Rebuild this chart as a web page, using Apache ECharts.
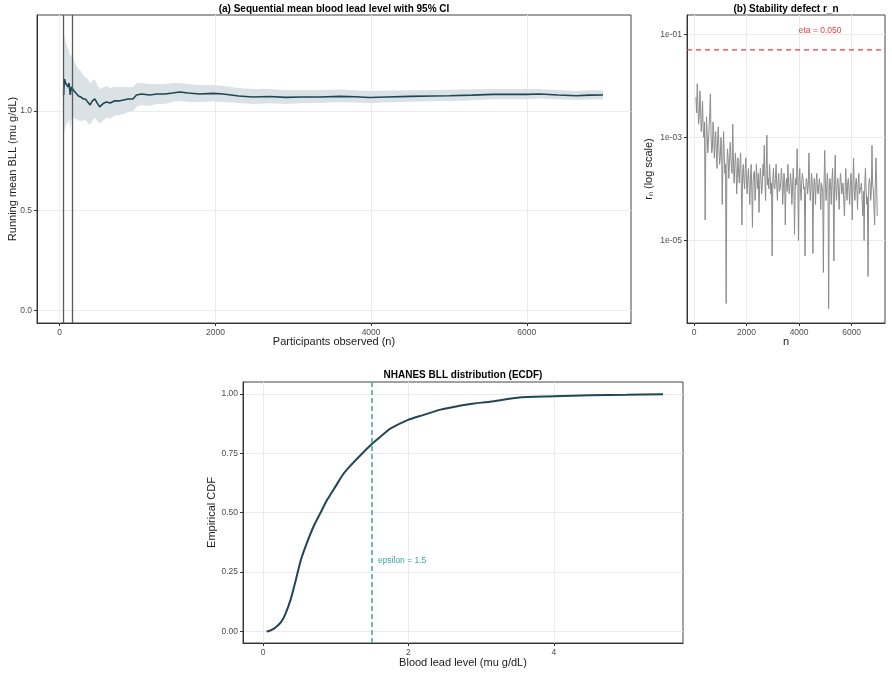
<!DOCTYPE html>
<html>
<head>
<meta charset="utf-8">
<script src="https://cdn.jsdelivr.net/npm/echarts@6/dist/echarts.min.js"></script>
<style>
  html, body { margin: 0; padding: 0; background: #fff; }
  #chart { width: 892px; height: 676px; }
</style>
</head>
<body>
<div id="chart"></div>
<script>
// ---- (a) running mean with 95% CI ----
var runN = [50, 60, 75, 90, 105, 120, 135, 150, 165, 185,
  210, 240, 270, 300, 330, 360, 390, 420, 450, 480,
  514, 540, 570, 600, 650, 700, 760, 820, 880, 940,
  986, 1050, 1156, 1250, 1350, 1450, 1541, 1650, 1800, 1969,
  2100, 2300, 2483, 2700, 2900, 3100, 3340, 3600, 3800, 3982,
  4200, 4500, 4795, 5000, 5300, 5566, 5800, 6000, 6166, 6400,
  6637, 6800, 6979];
var runMean = [1.08, 1.16, 1.14, 1.15, 1.12, 1.14, 1.08, 1.12, 1.13, 1.10,
  1.09, 1.075, 1.07, 1.06, 1.06, 1.045, 1.03, 1.05, 1.06, 1.04,
  1.02, 1.03, 1.04, 1.045, 1.04, 1.05, 1.05, 1.055, 1.06, 1.06,
  1.08, 1.085, 1.08, 1.085, 1.085, 1.09, 1.095, 1.09, 1.085, 1.088,
  1.085, 1.075, 1.07, 1.072, 1.068, 1.07, 1.07, 1.073, 1.071, 1.067,
  1.07, 1.073, 1.075, 1.076, 1.079, 1.083, 1.083, 1.083, 1.085, 1.08,
  1.076, 1.079, 1.08];
var ciUpper = [1.40, 1.38, 1.35, 1.33, 1.31, 1.30, 1.27, 1.28, 1.28, 1.25,
  1.23, 1.21, 1.20, 1.18, 1.17, 1.16, 1.14, 1.15, 1.16, 1.13,
  1.11, 1.115, 1.12, 1.125, 1.115, 1.12, 1.12, 1.12, 1.12, 1.12,
  1.14, 1.14, 1.135, 1.135, 1.135, 1.14, 1.14, 1.135, 1.13, 1.13,
  1.125, 1.115, 1.11, 1.11, 1.105, 1.105, 1.105, 1.107, 1.104, 1.10,
  1.102, 1.104, 1.105, 1.106, 1.108, 1.11, 1.11, 1.11, 1.11, 1.105,
  1.10, 1.103, 1.103];
var ciLower = [0.86, 0.90, 0.92, 0.94, 0.93, 0.96, 0.91, 0.95, 0.97, 0.96,
  0.96, 0.95, 0.95, 0.95, 0.955, 0.94, 0.93, 0.95, 0.965, 0.95,
  0.935, 0.945, 0.955, 0.965, 0.96, 0.975, 0.98, 0.985, 0.995, 1.0,
  1.02, 1.03, 1.025, 1.035, 1.035, 1.045, 1.05, 1.045, 1.045, 1.048,
  1.045, 1.04, 1.035, 1.038, 1.035, 1.038, 1.04, 1.043, 1.042, 1.038,
  1.042, 1.046, 1.048, 1.05, 1.053, 1.058, 1.058, 1.059, 1.062, 1.058,
  1.054, 1.057, 1.058];
var burnInN = [50, 163];

// ---- (b) stability defect r_n : [n, r_n] ----
var stabilityPoints = [
  [75, 6e-3], [125, 1.1e-2], [175, 1.8e-3], [225, 8e-3], [275, 1.3e-3], [325, 5e-3], [375, 1e-3], [425, 2.5e-5], [475, 2.5e-3], [525, 5e-4],
  [575, 1.6e-3], [625, 7e-3], [675, 5e-4], [725, 2e-3], [775, 4e-4], [825, 1.3e-3], [875, 2.5e-4], [925, 1.6e-3], [975, 3e-4], [1025, 1e-3],
  [1075, 5e-5], [1125, 1.3e-3], [1175, 2e-4], [1225, 6e-7], [1275, 6e-4], [1325, 1.6e-4], [1375, 8e-4], [1425, 2.5e-4], [1475, 1.8e-3], [1525, 1.3e-4],
  [1575, 5e-4], [1625, 8e-5], [1675, 4e-4], [1725, 1.3e-4], [1775, 5e-4], [1825, 2e-5], [1875, 3e-4], [1925, 1e-4], [1975, 4e-4], [2025, 8e-5],
  [2075, 2.5e-4], [2125, 5e-5], [2175, 3e-4], [2225, 1.8e-5], [2275, 2e-4], [2325, 6e-5], [2375, 3e-4], [2425, 1e-4], [2475, 3.5e-5], [2525, 2.5e-4],
  [2575, 8e-5], [2625, 3e-4], [2675, 7e-4], [2725, 6e-5], [2775, 1.1e-3], [2825, 1.6e-4], [2875, 3e-4], [2925, 8e-5], [2975, 5e-6], [3025, 2.5e-4],
  [3075, 1e-4], [3125, 3e-4], [3175, 6e-5], [3225, 2e-4], [3275, 1e-4], [3325, 2.5e-4], [3375, 5e-5], [3425, 2e-4], [3475, 2e-5], [3525, 1.6e-4],
  [3575, 3e-4], [3625, 8e-5], [3675, 2e-4], [3725, 5e-5], [3775, 2.5e-4], [3825, 1.3e-5], [3875, 1.6e-4], [3925, 6e-4], [3975, 1e-5], [4025, 2.5e-4],
  [4075, 6e-5], [4125, 2e-4], [4175, 1e-4], [4225, 5e-6], [4275, 1.6e-4], [4325, 8e-5], [4375, 5e-4], [4425, 6e-5], [4475, 2e-4], [4525, 5.6e-6],
  [4575, 1.6e-4], [4625, 5e-5], [4675, 2e-4], [4725, 8e-5], [4775, 1.6e-4], [4825, 4e-5], [4875, 1.3e-4], [4925, 2.4e-6], [4975, 5.6e-4], [5025, 6e-5],
  [5075, 2e-4], [5125, 4.8e-7], [5175, 1.6e-4], [5225, 5e-5], [5275, 2.5e-4], [5325, 4e-6], [5375, 4.5e-4], [5425, 6e-5], [5475, 1.6e-4], [5525, 4e-5],
  [5575, 2e-4], [5625, 8e-5], [5675, 1.3e-4], [5725, 3e-5], [5775, 2.5e-4], [5825, 6e-5], [5875, 1.6e-4], [5925, 5e-5], [5975, 2e-4], [6025, 2.5e-5],
  [6075, 4e-4], [6125, 6e-5], [6175, 1.6e-4], [6225, 4e-5], [6275, 2e-4], [6325, 8e-5], [6375, 1.3e-4], [6425, 3e-5], [6475, 1e-5], [6525, 2.5e-4],
  [6575, 5e-5], [6625, 2e-6], [6675, 1.6e-4], [6725, 6e-5], [6775, 7e-4], [6825, 1e-4], [6875, 2e-5], [6925, 4e-4], [6975, 3e-5]
];
// in-between samples of the same curve
var stabilityMid = [
  [100, 3e-3], [150, 4e-3], [200, 2.5e-3], [250, 4e-3], [300, 2e-3], [350, 1.5e-3], [400, 2e-3], [450, 6e-4], [500, 1.2e-3], [550, 8e-4],
  [600, 3e-3], [650, 1e-3], [700, 6e-4], [750, 1.3e-3], [800, 8e-4], [850, 5e-4], [900, 9e-4], [950, 6e-4], [1000, 4e-4], [1050, 7e-4],
  [1100, 3e-4], [1150, 5e-4], [1200, 3e-4], [1250, 2.5e-4], [1300, 4e-4], [1350, 3e-4], [1400, 5e-4], [1450, 2e-4], [1500, 4e-4], [1550, 2.5e-4],
  [1600, 3e-4], [1650, 1.6e-4], [1700, 2e-4], [1750, 3e-4], [1800, 1.2e-4], [1850, 2e-4], [1900, 1.5e-4], [1950, 2.5e-4], [2000, 1.3e-4], [2050, 1.8e-4],
  [2100, 1.2e-4], [2150, 1.6e-4], [2200, 1e-4], [2250, 1.4e-4], [2300, 2.2e-4], [2350, 1e-4], [2400, 1.6e-4], [2450, 2e-4], [2500, 1.2e-4], [2550, 1.6e-4],
  [2600, 1.1e-4], [2650, 1.8e-4], [2700, 1.4e-4], [2750, 2.5e-4], [2800, 1.2e-4], [2850, 1e-4], [2900, 1.8e-4], [2950, 1.3e-4], [3000, 1.5e-4], [3050, 1.1e-4],
  [3100, 1.6e-4], [3150, 1.2e-4], [3200, 1.4e-4], [3250, 9e-5], [3300, 1.3e-4], [3350, 1.7e-4], [3400, 1e-4], [3450, 1.5e-4], [3500, 1.2e-4], [3550, 9e-5],
  [3600, 1.4e-4], [3650, 1.1e-4], [3700, 1.3e-4], [3750, 1e-4], [3800, 1.5e-4], [3850, 9e-5], [3900, 1.2e-4], [3950, 1.8e-4], [4000, 1.4e-4], [4050, 1e-4],
  [4100, 1.3e-4], [4150, 1.6e-4], [4200, 1.1e-4], [4250, 9e-5], [4300, 1.4e-4], [4350, 1.2e-4], [4400, 1.5e-4], [4450, 1e-4], [4500, 1.3e-4], [4550, 8e-5],
  [4600, 1.2e-4], [4650, 1.4e-4], [4700, 9e-5], [4750, 1.2e-4], [4800, 1e-4], [4850, 1.3e-4], [4900, 9e-5], [4950, 1.2e-4], [5000, 1.5e-4], [5050, 1e-4],
  [5100, 1.3e-4], [5150, 9e-5], [5200, 1.1e-4], [5250, 1.4e-4], [5300, 8e-5], [5350, 1.2e-4], [5400, 1e-4], [5450, 1.3e-4], [5500, 9e-5], [5550, 1.1e-4],
  [5600, 1.4e-4], [5650, 1e-4], [5700, 1.2e-4], [5750, 8e-5], [5800, 1.1e-4], [5850, 1.3e-4], [5900, 9e-5], [5950, 1.2e-4], [6000, 1e-4], [6050, 1.4e-4],
  [6100, 9e-5], [6150, 1.2e-4], [6200, 1e-4], [6250, 1.3e-4], [6300, 8e-5], [6350, 1.1e-4], [6400, 1.4e-4], [6450, 9e-5], [6500, 1.2e-4], [6550, 1e-4],
  [6600, 7e-5], [6650, 1.1e-4], [6700, 1.3e-4], [6750, 9e-5], [6800, 1.2e-4], [6850, 1e-4], [6900, 1.1e-4], [6950, 1.4e-4]
];
var eta = 0.05;
var etaLabelAt = [4800, 0.115];

// ---- (c) ECDF of blood lead level ----
var ecdfX = [0.05, 0.1, 0.15, 0.2, 0.25, 0.3, 0.38, 0.45, 0.52, 0.6,
  0.7, 0.8, 0.88, 1.0, 1.1, 1.2, 1.34, 1.5, 1.65, 1.75,
  1.98, 2.2, 2.44, 2.7, 2.9, 3.12, 3.5, 4.0, 4.5, 5.0, 5.5];
var ecdfY = [0.0, 0.004, 0.012, 0.024, 0.04, 0.068, 0.134, 0.215, 0.30, 0.37,
  0.445, 0.505, 0.553, 0.612, 0.661, 0.697, 0.742, 0.79, 0.829, 0.854,
  0.889, 0.911, 0.934, 0.95, 0.96, 0.967, 0.984, 0.99, 0.995, 0.997, 0.999];
var epsilon = 1.5;

// tick values
var xTicksA = [0, 2000, 4000, 6000];
var yTicksA = [0, 0.5, 1.0];
var xTicksB = [0, 2000, 4000, 6000];
var yTicksB = [1e-5, 1e-3, 1e-1];
var xTicksC = [0, 2, 4];
var yTicksC = [0, 0.25, 0.5, 0.75, 1.0];

var FONT = '"Liberation Sans", Arial, Helvetica, sans-serif';
var lineDark = '#1f4655';
var bandFill = '#dbe2e6';
var etaRed = '#ea3b4a';
var epsTeal = '#3aa99e';

var chart = echarts.init(document.getElementById('chart'));

// shared axis look (ggplot theme_bw-ish)
function makeAxis(gridIndex, min, max, ticks, fmt, name, nameGap) {
    return {
        gridIndex: gridIndex,
        type: 'value',
        min: min,
        max: max,
        name: name,
        nameLocation: 'middle',
        nameGap: nameGap,
        nameMoveOverlap: false,
        nameTextStyle: { fontSize: 11, color: '#1a1a1a', fontFamily: FONT },
        axisLine: { show: true, onZero: false, lineStyle: { color: '#333', width: 1 } },
        axisTick: { show: true, length: 3, customValues: ticks, lineStyle: { color: '#333' } },
        axisLabel: { customValues: ticks, formatter: fmt, fontSize: 8.5, color: '#4d4d4d', margin: 5, fontFamily: FONT },
        splitLine: { show: true, lineStyle: { color: '#ebebeb', width: 1 } }
    };
}

function plain(v) { return String(v); }
function logLabel(v) {
    var e = Math.round(-v);
    return '1e-' + (e < 10 ? '0' + e : e);
}

var gridStyle = { show: true, borderColor: '#444', borderWidth: 1, backgroundColor: '#fff', outerBoundsMode: 'none' };

var stabilityAll = stabilityPoints.concat(stabilityMid).sort(function (a, b) { return a[0] - b[0]; });

var option = {
    animation: false,
    textStyle: { fontFamily: FONT },
    grid: [
        Object.assign({ left: 37, top: 15, width: 594, height: 308 }, gridStyle),
        Object.assign({ left: 687, top: 15, width: 198, height: 308 }, gridStyle),
        Object.assign({ left: 243, top: 382, width: 440, height: 261 }, gridStyle)
    ],
    xAxis: [
        makeAxis(0, -292, 7339, xTicksA, plain, 'Participants observed (n)', 13),
        makeAxis(1, -266, 7270, xTicksB, plain, 'n', 13),
        makeAxis(2, -0.275, 5.775, xTicksC, plain, 'Blood lead level (mu g/dL)', 14)
    ],
    yAxis: [
        makeAxis(0, -0.064, 1.481, yTicksA, function (v) { return v.toFixed(1); }, 'Running mean BLL (mu g/dL)', 19),
        makeAxis(1, -6.60, -0.626, yTicksB.map(Math.log10), logLabel, 'r\u2099 (log scale)', 33),
        makeAxis(2, -0.0487, 1.0504, yTicksC, function (v) { return v.toFixed(2); }, 'Empirical CDF', 26)
    ],
    graphic: [
        { type: 'text', x: 334, y: 4, z: 10,
          style: { text: '(a) Sequential mean blood lead level with 95% CI', font: 'bold 10px ' + FONT, fill: '#000', align: 'center', verticalAlign: 'top' } },
        { type: 'text', x: 786, y: 4, z: 10,
          style: { text: '(b) Stability defect r_n', font: 'bold 10px ' + FONT, fill: '#000', align: 'center', verticalAlign: 'top' } },
        { type: 'text', x: 463, y: 370, z: 10,
          style: { text: 'NHANES BLL distribution (ECDF)', font: 'bold 10px ' + FONT, fill: '#000', align: 'center', verticalAlign: 'top' } }
    ],
    series: [
        // CI band as one polygon
        {
            type: 'custom',
            xAxisIndex: 0,
            yAxisIndex: 0,
            silent: true,
            z: 1,
            data: runN.map(function (n, i) { return [n, ciLower[i], ciUpper[i]]; }),
            encode: { x: 0, y: [1, 2] },
            renderItem: function (params, api) {
                if (params.dataIndex !== 0) return;
                var pts = [];
                for (var i = 0; i < runN.length; i++) pts.push(api.coord([runN[i], ciUpper[i]]));
                for (var j = runN.length - 1; j >= 0; j--) pts.push(api.coord([runN[j], ciLower[j]]));
                return { type: 'polygon', shape: { points: pts }, style: { fill: bandFill } };
            }
        },
        {
            name: 'Running mean',
            type: 'line',
            xAxisIndex: 0,
            yAxisIndex: 0,
            z: 3,
            symbol: 'none',
            data: runN.map(function (n, i) { return [n, runMean[i]]; }),
            lineStyle: { color: lineDark, width: 1.6 },
            itemStyle: { color: lineDark },
            markLine: {
                silent: true,
                symbol: ['none', 'none'],
                label: { show: false },
                lineStyle: { color: '#5a5a5a', width: 1.3, type: 'solid' },
                data: burnInN.map(function (n) { return { xAxis: n }; })
            }
        },
        {
            name: 'r_n',
            type: 'line',
            xAxisIndex: 1,
            yAxisIndex: 1,
            symbol: 'none',
            data: stabilityAll.map(function (p) { return [p[0], Math.log10(p[1])]; }),
            lineStyle: { color: '#8c8c8c', width: 1 },
            itemStyle: { color: '#8c8c8c' }
        },
        // eta threshold line + its label
        {
            name: 'eta',
            type: 'custom',
            xAxisIndex: 1,
            yAxisIndex: 1,
            silent: true,
            z: 4,
            data: [[etaLabelAt[0], Math.log10(eta)]],
            renderItem: function (params, api) {
                var cs = params.coordSys;
                var y = api.coord([0, api.value(1)])[1];
                var lab = api.coord([etaLabelAt[0], Math.log10(etaLabelAt[1])]);
                return {
                    type: 'group',
                    children: [
                        { type: 'line', shape: { x1: cs.x, y1: y, x2: cs.x + cs.width, y2: y },
                          style: { stroke: etaRed, lineWidth: 1.2, lineDash: [5, 4] } },
                        { type: 'text', x: lab[0], y: lab[1],
                          style: { text: 'eta = ' + eta.toFixed(3), fill: etaRed, font: '8.5px ' + FONT, align: 'center', verticalAlign: 'middle' } }
                    ]
                };
            }
        },
        {
            name: 'ECDF',
            type: 'line',
            xAxisIndex: 2,
            yAxisIndex: 2,
            symbol: 'none',
            smooth: 0.25,
            data: ecdfX.map(function (x, i) { return [x, ecdfY[i]]; }),
            lineStyle: { color: lineDark, width: 2 },
            itemStyle: { color: lineDark },
            markLine: {
                silent: true,
                symbol: ['none', 'none'],
                label: { show: false },
                lineStyle: { color: epsTeal, width: 1.5, type: [5, 3] },
                data: [{ xAxis: epsilon }]
            },
            markPoint: {
                silent: true,
                symbol: 'circle',
                symbolSize: 0,
                data: [{
                    coord: [1.58, 0.30],
                    label: { show: true, position: 'right', distance: 0, formatter: 'epsilon = ' + epsilon, color: epsTeal, fontSize: 8.5 }
                }]
            }
        }
    ]
};

chart.setOption(option);
</script>
</body>
</html>
